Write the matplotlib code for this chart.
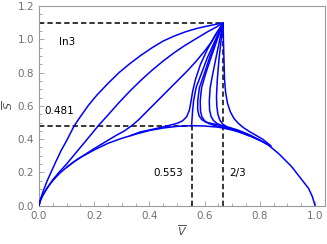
import matplotlib
matplotlib.use("Agg")
import matplotlib.pyplot as plt
from matplotlib.ticker import MultipleLocator

# Lower curve (0,0) -> (1,0)
L_v = [0, 0.005, 0.01, 0.02, 0.035, 0.05, 0.075, 0.1, 0.125, 0.15, 0.2, 0.25, 0.3, 0.35, 0.4, 0.45,
       0.5, 0.553, 0.6, 0.65, 0.7, 0.75, 0.8, 0.83, 0.87, 0.915, 0.95, 0.976, 0.99, 1.0]
L_s = [0, 0.03, 0.052, 0.08, 0.118, 0.15, 0.195, 0.23, 0.262, 0.29, 0.335, 0.375, 0.405, 0.43, 0.452,
       0.467, 0.477, 0.481, 0.479, 0.472, 0.455, 0.43, 0.393, 0.366, 0.31, 0.235, 0.16, 0.105, 0.055, 0.0]

# Curves from (2/3, ln3)
A_v = [0, 0.005, 0.015, 0.03, 0.045, 0.06, 0.08, 0.1, 0.128, 0.15, 0.18, 0.21, 0.25, 0.29, 0.33,
       0.37, 0.41, 0.45, 0.49, 0.53, 0.57, 0.61, 0.64, 0.667]
A_s = [0, 0.035, 0.085, 0.15, 0.205, 0.26, 0.33, 0.39, 0.481, 0.535, 0.605, 0.665, 0.735, 0.8, 0.855,
       0.905, 0.95, 0.99, 1.02, 1.045, 1.065, 1.08, 1.09, 1.099]

B_v = [0, 0.005, 0.015, 0.03, 0.05, 0.075, 0.1, 0.13, 0.16, 0.19, 0.215, 0.25, 0.29, 0.33, 0.37,
       0.41, 0.45, 0.49, 0.53, 0.57, 0.61, 0.64, 0.667]
B_s = [0, 0.028, 0.065, 0.107, 0.155, 0.205, 0.25, 0.31, 0.37, 0.43, 0.481, 0.545, 0.62, 0.69, 0.755,
       0.815, 0.87, 0.92, 0.965, 1.005, 1.045, 1.072, 1.099]

C_v = [0.1, 0.13, 0.16, 0.2, 0.24, 0.28, 0.31, 0.336, 0.36, 0.39, 0.42, 0.45, 0.48, 0.51, 0.54,
       0.57, 0.6, 0.625, 0.645, 0.667]
C_s = [0.23, 0.268, 0.3, 0.343, 0.383, 0.423, 0.45, 0.481, 0.515, 0.565, 0.615, 0.665, 0.715, 0.765,
       0.815, 0.87, 0.93, 0.985, 1.04, 1.099]

D_v = [0.667, 0.64, 0.61, 0.585, 0.567, 0.557, 0.551, 0.545, 0.535, 0.52, 0.5, 0.47, 0.43, 0.4, 0.366, 0.33]
D_s = [1.099, 1.03, 0.94, 0.85, 0.76, 0.69, 0.63, 0.575, 0.535, 0.51, 0.495, 0.482, 0.466, 0.455, 0.443, 0.42]

E_v = [0.667, 0.64, 0.61, 0.585, 0.569, 0.56, 0.556, 0.554, 0.553]
E_s = [1.099, 1.0, 0.89, 0.78, 0.709, 0.63, 0.56, 0.51, 0.481]

F_v = [0.667, 0.645, 0.62, 0.598, 0.581, 0.575, 0.575, 0.58, 0.59, 0.605, 0.625, 0.65, 0.68, 0.72, 0.76]
F_s = [1.099, 1.01, 0.9, 0.79, 0.709, 0.63, 0.575, 0.54, 0.517, 0.502, 0.494, 0.486, 0.472, 0.447, 0.42]

G_v = [0.667, 0.65, 0.625, 0.603, 0.589, 0.584, 0.585, 0.59, 0.6, 0.615, 0.635, 0.66, 0.7]
G_s = [1.099, 1.02, 0.9, 0.79, 0.709, 0.63, 0.57, 0.535, 0.51, 0.494, 0.483, 0.473, 0.457]

H_v = [0.667, 0.655, 0.64, 0.628, 0.62, 0.617, 0.618, 0.623, 0.632, 0.645, 0.665, 0.69, 0.72, 0.76, 0.8]
H_s = [1.099, 1.0, 0.88, 0.78, 0.709, 0.63, 0.575, 0.538, 0.512, 0.494, 0.48, 0.47, 0.455, 0.428, 0.395]

I_v = [0.667, 0.66, 0.652, 0.646, 0.643, 0.644, 0.648, 0.655, 0.666, 0.685, 0.71, 0.74, 0.77, 0.81, 0.84]
I_s = [1.099, 1.0, 0.88, 0.76, 0.66, 0.6, 0.55, 0.515, 0.49, 0.47, 0.456, 0.438, 0.415, 0.385, 0.356]

R_v = [0.667, 0.668, 0.67, 0.672, 0.676, 0.683, 0.693, 0.706, 0.722, 0.74, 0.76, 0.785, 0.81, 0.84]
R_s = [1.099, 1.0, 0.88, 0.76, 0.68, 0.615, 0.565, 0.525, 0.495, 0.47, 0.448, 0.424, 0.4, 0.36]

curves = [(L_v, L_s), (A_v, A_s), (B_v, B_s), (C_v, C_s), (D_v, D_s), (E_v, E_s),
          (F_v, F_s), (G_v, G_s), (H_v, H_s), (I_v, I_s), (R_v, R_s)]

v_star, s_star = 2 / 3, 1.0986
v_max, s_max = 0.553, 0.481
labels = ["ln3", "0.481", "0.553", "2/3"]

fig = plt.figure(figsize=(3.27, 2.44), dpi=100)
ax = fig.add_axes([0.119, 0.157, 0.875, 0.818])

for v, s in curves:
    ax.plot(v, s, color=(0, 0, 1), lw=1.1, solid_capstyle="round", solid_joinstyle="round", zorder=3)

dash = dict(color="black", lw=1.1, ls=(0, (3.5, 2)), zorder=2)
ax.plot([0, v_star], [s_star, s_star], **dash)
ax.plot([v_star, v_star], [0, s_star], **dash)
ax.plot([0, v_max], [s_max, s_max], **dash)
ax.plot([v_max, v_max], [0, s_max], **dash)

fs = 7.5
ax.text(0.072, 0.985, labels[0], fontsize=fs, va="center", ha="left")
ax.text(0.02, 0.57, labels[1], fontsize=fs, va="center", ha="left")
ax.text(0.413, 0.196, labels[2], fontsize=fs, va="center", ha="left")
ax.text(0.688, 0.196, labels[3], fontsize=fs, va="center", ha="left")

ax.set_xlim(0, 1.036)
ax.set_ylim(0, 1.2)
ax.xaxis.set_major_locator(MultipleLocator(0.2))
ax.xaxis.set_minor_locator(MultipleLocator(0.05))
ax.yaxis.set_major_locator(MultipleLocator(0.2))
ax.yaxis.set_minor_locator(MultipleLocator(0.05))
ax.xaxis.set_major_formatter(plt.FuncFormatter(lambda x, p: f"{x:.1f}"))
ax.yaxis.set_major_formatter(plt.FuncFormatter(lambda x, p: f"{x:.1f}"))

gray = "#9a9a9a"
for sp in ax.spines.values():
    sp.set_color(gray)
    sp.set_linewidth(0.8)
ax.tick_params(which="both", direction="in", color=gray, labelcolor="#707070",
               labelsize=7.5, top=False, right=False, width=0.6)
ax.tick_params(which="major", length=3.5)
ax.tick_params(which="minor", length=2)

ax.set_xlabel(r"$\overline{V}$", fontsize=8, color="#505050", labelpad=2)
ax.set_ylabel(r"$\overline{S}$", fontsize=8, color="#505050", labelpad=2)

fig.savefig("out.png", dpi=100)
